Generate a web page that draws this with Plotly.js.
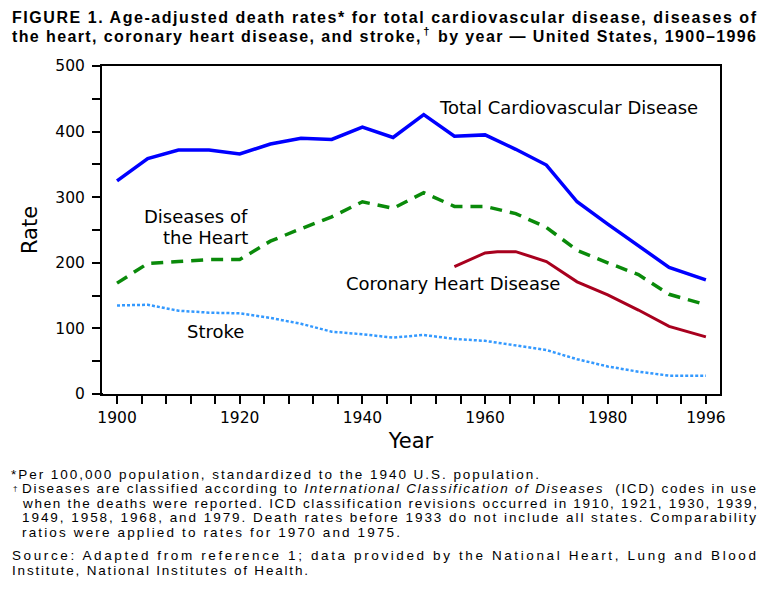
<!DOCTYPE html>
<html>
<head>
<meta charset="utf-8">
<script src="https://cdn.plot.ly/plotly-3.0.1.min.js"></script>
<style>html,body{margin:0;padding:0;background:#fff;}#chart{width:768px;height:593px;}</style>
</head>
<body>
<div id="chart"></div>
<script>
// ---- data ----
const years = [1900,1905,1910,1915,1920,1925,1930,1935,1940,1945,1950,1955,1960,1965,1970,1975,1980,1985,1990,1996];
const totalCVD = [325,359,372,372,366,381,390,388,407,391,426,393,395,373,349,293,259,226,193,174];
const heartDisease = [169,199,202,205,205,233,252,270,293,283,307,286,286,275,254,219,200,182,152,136];
const stroke = [135,136,127,124,123,116,107,95,91,86,90,84,81,74,67,53,42,34,28,28];
const chdYears = [1955,1960,1962,1965,1970,1975,1980,1985,1990,1996];
const chd = [194,215,217,217,202,171,151,128,103,87];

const xLabeled = [1900,1920,1940,1960,1980,1996];
const xMinor = [];
for (let y = 1900; y <= 1996; y += 4) if (!xLabeled.includes(y)) xMinor.push(y);
const yLabeled = [0,100,200,300,400,500];
const yMinor = [50,150,250,350,450];

const labelFont = {family: "DejaVu Sans, sans-serif", size: 18, color: "#000"};

const traces = [
  {x: years, y: totalCVD, mode: "lines", line: {color: "#0000ff", width: 3.5}, hoverinfo: "skip"},
  {x: years, y: heartDisease, mode: "lines", line: {color: "#0a8a0a", width: 3.5, dash: "12px,8px"}, hoverinfo: "skip"},
  {x: chdYears, y: chd, mode: "lines", line: {color: "#a8001e", width: 3}, hoverinfo: "skip"},
  {x: years, y: stroke, mode: "lines", line: {color: "#3399ff", width: 2.5, dash: "3px,2px"}, hoverinfo: "skip"}
];

// paper coords: plot area left=102,right=720 (width 618), top=66,bottom=394 (height 328)
function px(xp) { return (xp - 102) / 618; }
function py(yp) { return (394 - yp) / 328; }

const foot = {family: "Liberation Sans, Arial, sans-serif", size: 13.5, color: "#000"};
const dagFont = {family: "Liberation Sans, Arial, sans-serif", size: 8, color: "#000"};
const titleFont = {family: "Liberation Sans, Arial, sans-serif", size: 16, color: "#000"};

// text lines drawn as annotations; w = target rendered width (justified as in the print), 0 = natural
const textLines = [
  {t: "<b>FIGURE 1. Age-adjusted death rates* for total cardiovascular disease, diseases of</b>", x: 11, y: 17.5, w: 744, f: titleFont},
  {t: "<b>the heart, coronary heart disease, and stroke,<sup>†</sup> by year — United States, 1900–1996</b>", x: 11, y: 35.5, w: 744, f: titleFont},
  {t: "*Per 100,000 population, standardized to the 1940 U.S. population.", x: 10, y: 474, w: 528, f: foot},
  {t: "†", x: 12, y: 488, w: 0, f: dagFont},
  {t: "Diseases are classified according to <i>International Classification of Diseases</i>  (ICD) codes in use", x: 21, y: 488.5, w: 734, f: foot},
  {t: "when the deaths were reported. ICD classification revisions occurred in 1910, 1921, 1930, 1939,", x: 21, y: 503, w: 734, f: foot},
  {t: "1949, 1958, 1968, and 1979. Death rates before 1933 do not include all states. Comparability", x: 21, y: 517.5, w: 734, f: foot},
  {t: "ratios were applied to rates for 1970 and 1975.", x: 21, y: 532, w: 378, f: foot},
  {t: "Source: Adapted from reference 1; data provided by the National Heart, Lung and Blood", x: 11, y: 555.5, w: 744, f: foot},
  {t: "Institute, National Institutes of Health.", x: 11, y: 570, w: 296, f: foot}
];

const annotations = [
  {x: 1973.6, y: 436, xref: "x", yref: "y", text: "Total Cardiovascular Disease", showarrow: false, font: labelFont},
  {x: 1921.7, y: 270, xref: "x", yref: "y", text: "Diseases of", showarrow: false, xanchor: "right", font: labelFont},
  {x: 1921.7, y: 239, xref: "x", yref: "y", text: "the Heart", showarrow: false, xanchor: "right", font: labelFont},
  {x: 1954.7, y: 169, xref: "x", yref: "y", text: "Coronary Heart Disease", showarrow: false, font: labelFont},
  {x: 1916.1, y: 96, xref: "x", yref: "y", text: "Stroke", showarrow: false, font: labelFont}
];
const firstTextIdx = annotations.length;
textLines.forEach(l => annotations.push({
  xref: "paper", yref: "paper", x: px(l.x), y: py(l.y), text: l.t, showarrow: false,
  xanchor: "left", yanchor: "middle", align: "left", font: l.f, borderpad: 0
}));

const tickFont = {family: "DejaVu Sans, sans-serif", size: 15.5, color: "#000"};
const axTitleFont = {family: "DejaVu Sans, sans-serif", size: 21, color: "#000"};

const layout = {
  width: 768, height: 593,
  margin: {l: 102, r: 48, t: 66, b: 199, pad: 0},
  paper_bgcolor: "#fff", plot_bgcolor: "#fff",
  showlegend: false,
  xaxis: {
    range: [1897.55, 1998.3], tickmode: "array", tickvals: xLabeled,
    ticks: "outside", ticklen: 8, tickwidth: 2, tickcolor: "#000",
    minor: {tickmode: "array", tickvals: xMinor, ticks: "outside", ticklen: 8, tickwidth: 2, tickcolor: "#000", showgrid: false},
    showline: true, linecolor: "#000", linewidth: 2, mirror: true,
    showgrid: false, zeroline: false, tickfont: tickFont,
    title: {text: "Year", font: axTitleFont, standoff: 8}
  },
  yaxis: {
    range: [0, 500], tickmode: "array", tickvals: yLabeled,
    ticks: "outside", ticklen: 8, tickwidth: 2, tickcolor: "#000", ticklabelstandoff: 4,
    minor: {tickmode: "array", tickvals: yMinor, ticks: "outside", ticklen: 8, tickwidth: 2, tickcolor: "#000", showgrid: false},
    showline: true, linecolor: "#000", linewidth: 2, mirror: true,
    showgrid: false, zeroline: false, tickfont: tickFont,
    title: {text: "Rate", font: axTitleFont, standoff: 12}
  },
  shapes: [
    {type: "line", xref: "paper", yref: "paper", x0: px(93), x1: px(103), y0: 0, y1: 0, line: {color: "#000", width: 2}}
  ],
  annotations: annotations
};

Plotly.newPlot("chart", traces, layout, {staticPlot: true, displayModeBar: false}).then(gd => {
  // stretch each printed text line to its justified width, as in the original typesetting
  textLines.forEach((l, i) => {
    if (!l.w) return;
    const el = gd.querySelector('.annotation[data-index="' + (firstTextIdx + i) + '"] text.annotation-text');
    if (el) {
      el.setAttribute("text-anchor", "start");
      el.setAttribute("textLength", l.w);
      el.setAttribute("lengthAdjust", "spacing");
    }
  });
});
</script>
</body>
</html>
